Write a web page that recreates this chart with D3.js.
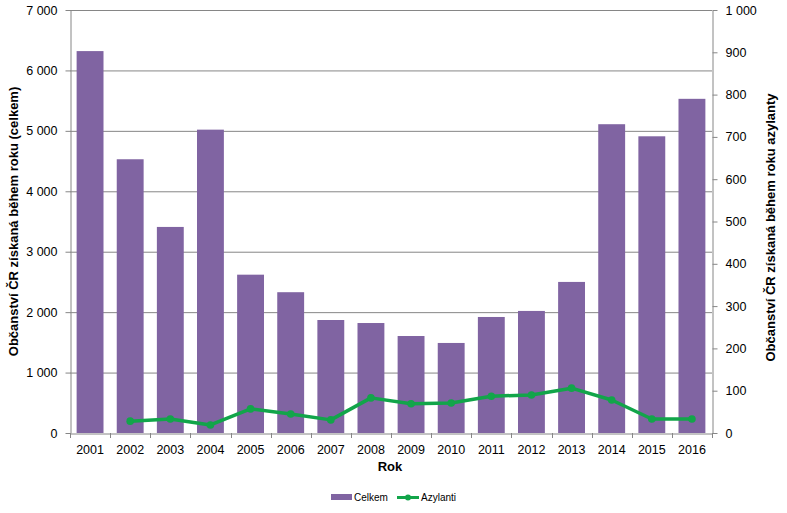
<!DOCTYPE html>
<html><head><meta charset="utf-8">
<script src="https://cdn.jsdelivr.net/npm/d3@7"></script>
<style>body{margin:0;background:#fff;} svg{display:block;font-family:"Liberation Sans",Arial,sans-serif;}</style>
</head><body>
<svg id="c" width="787" height="513"></svg>
<script>
const years = ["2001","2002","2003","2004","2005","2006","2007","2008","2009","2010","2011","2012","2013","2014","2015","2016"];
const celkem = [6320,4530,3410,5020,2620,2330,1870,1820,1605,1490,1920,2020,2500,5110,4910,5530];
const azylanti = [null,28,33,19,57,45,31,83,69,71,87,90,106,78,33,33];
const leftTicks = [0,1000,2000,3000,4000,5000,6000,7000];
const rightTicks = [0,100,200,300,400,500,600,700,800,900,1000];

const svg = d3.select("#c");
const L=70,R=712,T=10,B=433;
const x = d3.scaleBand().domain(years).range([L,R]).paddingInner(0.33).paddingOuter(0.165);
const xb = d3.scaleBand().domain(years).range([L,R]);
const yL = d3.scaleLinear().domain([0,7000]).range([B,T]);
const yR = d3.scaleLinear().domain([0,1000]).range([B,T]);
const fmt = d => d3.format(",")(d).replace(/,/g," ");
const grey="#868686";

svg.append("g").selectAll("line").data(leftTicks.filter(d=>d>0)).join("line")
  .attr("x1",L).attr("x2",R).attr("y1",d=>yL(d)+0.5).attr("y2",d=>yL(d)+0.5)
  .attr("stroke",grey).attr("stroke-width",1);

svg.append("g").selectAll("rect").data(years).join("rect")
  .attr("x",d=>x(d)).attr("width",x.bandwidth())
  .attr("y",(d,i)=>yL(celkem[i])).attr("height",(d,i)=>B-yL(celkem[i]))
  .attr("fill","#8064A2");

const gl = svg.append("g").attr("transform",`translate(${L+0.5},0)`)
  .call(d3.axisLeft(yL).tickValues(leftTicks).tickFormat(fmt).tickSize(5).tickSizeOuter(0));
const gr = svg.append("g").attr("transform",`translate(${R+0.5},0)`)
  .call(d3.axisRight(yR).tickValues(rightTicks).tickFormat(fmt).tickSize(5).tickSizeOuter(0));
const gx = svg.append("g").attr("transform",`translate(0,${B+0.5})`)
  .call(d3.axisBottom(xb).tickSize(0).tickSizeOuter(0));
gx.selectAll(".tick text").attr("dy","0").attr("y",20);
svg.append("g").selectAll("line").data(d3.range(years.length+1)).join("line")
  .attr("x1",i=>Math.round(L+i*xb.step())+0.5).attr("x2",i=>Math.round(L+i*xb.step())+0.5)
  .attr("y1",B).attr("y2",B+5).attr("stroke",grey);

[gl,gr,gx].forEach(g=>{
  g.selectAll(".domain,.tick line").attr("stroke",grey);
  g.selectAll("text").attr("font-size",12.5).attr("fill","#000").attr("font-family","'Liberation Sans',Arial,sans-serif");
});
gl.selectAll(".tick text").attr("x",-13);
gr.selectAll(".tick text").attr("x",13);

const line = d3.line().defined(d=>d.v!=null).x(d=>xb(d.k)+xb.bandwidth()/2).y(d=>yR(d.v));
const pts = years.map((k,i)=>({k,v:azylanti[i]}));
svg.append("path").datum(pts).attr("d",line).attr("fill","none")
  .attr("stroke","#12A54A").attr("stroke-width",3.5).attr("stroke-linejoin","round");
svg.append("g").selectAll("circle").data(pts.filter(d=>d.v!=null)).join("circle")
  .attr("cx",d=>xb(d.k)+xb.bandwidth()/2).attr("cy",d=>yR(d.v)).attr("r",3.8).attr("fill","#12A54A");

svg.append("text").attr("x",390).attr("y",471).attr("text-anchor","middle")
  .attr("font-size",13).attr("font-weight","bold").text("Rok");
svg.append("text").attr("transform",`translate(18,${(T+B)/2}) rotate(-90)`).attr("text-anchor","middle")
  .attr("font-size",13).attr("font-weight","bold").text("Občanství ČR získaná během roku (celkem)");
svg.append("text").attr("transform",`translate(775,${(T+B)/2+6}) rotate(-90)`).attr("text-anchor","middle")
  .attr("font-size",13).attr("font-weight","bold").text("Občanství ČR získaná během roku azylanty");

const lg = svg.append("g").attr("font-size",10);
lg.append("rect").attr("x",331).attr("y",494).attr("width",21).attr("height",6).attr("fill","#8064A2");
lg.append("text").attr("x",354).attr("y",501).text("Celkem");
lg.append("line").attr("x1",397).attr("x2",419).attr("y1",497.5).attr("y2",497.5).attr("stroke","#12A54A").attr("stroke-width",3);
lg.append("circle").attr("cx",408).attr("cy",497.5).attr("r",3).attr("fill","#12A54A");
lg.append("text").attr("x",421).attr("y",501).text("Azylanti");
</script>
</body></html>
